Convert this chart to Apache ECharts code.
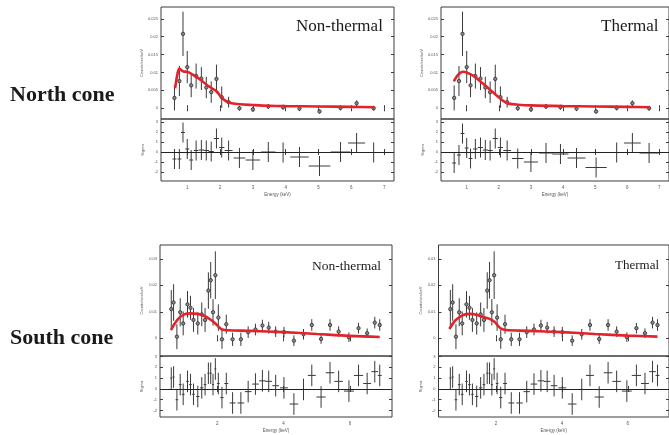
<!DOCTYPE html>
<html>
<head>
<meta charset="utf-8">
<script src="https://cdn.jsdelivr.net/npm/echarts@6/dist/echarts.min.js"></script>
<style>
    html, body { margin: 0; padding: 0; background: #fff; }
    #main { width: 669px; height: 435px; }
</style>
</head>
<body>
<div id="main"></div>
<script>
// north cone spectrum (keV, counts/sec/keV, error, half bin width)
var northE = [0.61, 0.76, 0.87, 1.0, 1.12, 1.27, 1.43, 1.58, 1.73, 1.89, 2.05, 2.26, 2.59, 3.0, 3.47, 3.92, 4.42, 5.03, 5.67, 6.16, 6.68];
var northRate = [0.0029, 0.0076, 0.0208, 0.0115, 0.0064, 0.0090, 0.0083, 0.0058, 0.0045, 0.0082, 0.0031, 0.0017, 0.0000, -0.0003, 0.0005, 0.0003, -0.0001, -0.0009, 0.0001, 0.0014, 0.0000];
var northErr = [0.0035, 0.0042, 0.0062, 0.0045, 0.0033, 0.0035, 0.0032, 0.0030, 0.0030, 0.0040, 0.0030, 0.0015, 0.0007, 0.0007, 0.0007, 0.0007, 0.0007, 0.0006, 0.0007, 0.0008, 0.0007];
var northWidth = [0.06, 0.06, 0.06, 0.06, 0.06, 0.07, 0.08, 0.08, 0.08, 0.08, 0.08, 0.12, 0.18, 0.22, 0.22, 0.25, 0.28, 0.33, 0.30, 0.26, 0.30];
var northSigmaNT = [-0.7, -0.7, 1.95, 0.3, -0.8, 0.15, 0.2, 0.15, 0.05, 1.35, 0.45, 0.15, -0.6, -0.8, 0.0, -0.05, -0.5, -1.4, 0.0, 0.9, -0.05];
var northSigmaT = [-1.1, -0.3, 1.85, 0.4, -0.65, 0.3, 0.45, 0.2, 0.15, 1.35, 0.45, 0.15, -0.65, -1.0, -0.1, -0.2, -0.6, -1.55, -0.05, 0.9, -0.1];

// north models
var northModelNTE = [0.63, 0.70, 0.76, 0.88, 1.0, 1.2, 1.4, 1.6, 1.75, 1.9, 2.0, 2.1, 2.2, 2.35, 2.6, 3.0, 3.5, 4.0, 5.0, 6.0, 6.7];
var northModelNT = [0.0056, 0.0095, 0.0110, 0.0103, 0.0102, 0.0092, 0.0080, 0.0065, 0.0056, 0.0047, 0.0035, 0.0025, 0.0019, 0.0014, 0.0011, 0.0009, 0.0007, 0.0006, 0.0005, 0.0004, 0.0003];
var northModelTE = [0.6, 0.7, 0.8, 0.9, 1.0, 1.2, 1.4, 1.6, 1.8, 2.0, 2.1, 2.2, 2.3, 2.6, 3.0, 4.0, 5.0, 6.0, 6.7];
var northModelT = [0.0075, 0.0090, 0.0099, 0.0102, 0.0100, 0.0091, 0.0077, 0.0062, 0.0046, 0.0031, 0.0023, 0.0017, 0.0013, 0.0010, 0.0008, 0.0006, 0.0005, 0.0004, 0.0003];

// south cone spectrum
var southE = [0.61, 0.68, 0.78, 0.88, 0.97, 1.10, 1.19, 1.28, 1.41, 1.53, 1.63, 1.73, 1.80, 1.87, 1.94, 2.03, 2.14, 2.27, 2.46, 2.71, 2.93, 3.15, 3.36, 3.55, 3.76, 4.01, 4.31, 4.60, 4.85, 5.13, 5.40, 5.66, 5.97, 6.26, 6.52, 6.75, 6.90];
var southRate = [0.0110, 0.0135, 0.0006, 0.0098, 0.0056, 0.0128, 0.0115, 0.0069, 0.0056, 0.0090, 0.0069, 0.0180, 0.0219, 0.0098, 0.0238, 0.0078, -0.0004, 0.0053, -0.0004, -0.0004, 0.0023, 0.0033, 0.0048, 0.0040, 0.0025, 0.0023, -0.0009, 0.0015, 0.0050, -0.0003, 0.0050, 0.0025, 0.0004, 0.0038, 0.0019, 0.0059, 0.0050];
var southErr = [0.0072, 0.0069, 0.0047, 0.0053, 0.0045, 0.0050, 0.0045, 0.0045, 0.0042, 0.0045, 0.0045, 0.0069, 0.0069, 0.0050, 0.0090, 0.0050, 0.0036, 0.0036, 0.0025, 0.0025, 0.0022, 0.0022, 0.0022, 0.0022, 0.0020, 0.0020, 0.0020, 0.0020, 0.0022, 0.0018, 0.0022, 0.0020, 0.0018, 0.0020, 0.0018, 0.0022, 0.0022];
var southWidth = [0.03, 0.03, 0.04, 0.04, 0.04, 0.04, 0.04, 0.04, 0.05, 0.05, 0.04, 0.03, 0.03, 0.03, 0.03, 0.04, 0.05, 0.06, 0.09, 0.10, 0.10, 0.10, 0.10, 0.10, 0.10, 0.12, 0.13, 0.13, 0.12, 0.14, 0.13, 0.13, 0.15, 0.14, 0.12, 0.10, 0.06];
var southSigma = [1.0, 1.1, -1.0, 0.4, -0.5, 0.7, 0.4, -0.5, -0.7, 0.1, 0.4, 1.45, 1.45, 0.4, 1.85, 0.5, -0.8, 0.5, -1.3, -1.3, -0.25, 0.45, 0.75, 0.7, 0.3, 0.1, -1.4, -0.05, 1.25, -0.75, 1.5, 0.7, -0.2, 1.25, 0.5, 1.6, 1.25];

// south models
var southModelNTE = [0.6, 0.8, 1.0, 1.2, 1.4, 1.6, 1.8, 1.95, 2.05, 2.15, 2.3, 3.0, 4.0, 5.0, 6.0, 6.9];
var southModelNT = [0.0031, 0.0070, 0.0090, 0.0094, 0.0092, 0.0085, 0.0070, 0.0055, 0.0042, 0.0033, 0.0030, 0.0028, 0.0023, 0.0016, 0.0009, 0.0005];
var southModelTE = [0.58, 0.7, 0.8, 1.0, 1.2, 1.4, 1.6, 1.8, 1.95, 2.05, 2.15, 2.3, 3.0, 4.0, 5.0, 6.0, 6.9];
var southModelT = [0.0035, 0.0058, 0.0072, 0.0088, 0.0092, 0.0089, 0.0080, 0.0073, 0.0062, 0.0048, 0.0036, 0.0031, 0.0028, 0.0023, 0.0016, 0.0010, 0.0006];

// tick labels
var northXTicks = [1, 2, 3, 4, 5, 6, 7];
var southXTicks = [2, 4, 6];
var northRateTicks = [0, 0.005, 0.01, 0.015, 0.02, 0.025];
var southRateTicks = [0, 0.01, 0.02, 0.03];
var sigmaTicks = [-2, -1, 0, 1, 2, 3];

var chart = echarts.init(document.getElementById('main'));
var option = {
    animation: false,
    backgroundColor: '#fff',
    grid: [],
    xAxis: [],
    yAxis: [],
    series: [],
    graphic: []
};

var frameColor = '#3c3c3c';

function errorBars(params, api) {
    var x = api.value(0), y = api.value(1), ye = api.value(2), xe = api.value(3), mark = api.value(4);
    var c = api.coord([x, y]);
    var hi = api.coord([x, y + ye]);
    var lo = api.coord([x, y - ye]);
    var style = { stroke: '#3a3a3a', lineWidth: 1 };
    var kids = [
        { type: 'line', shape: { x1: c[0], y1: hi[1], x2: c[0], y2: lo[1] }, style: style }
    ];
    if (xe > 0) {
        var l = api.coord([x - xe, y]);
        var r = api.coord([x + xe, y]);
        kids.push({ type: 'line', shape: { x1: l[0], y1: c[1], x2: r[0], y2: c[1] }, style: style });
    }
    if (mark) {
        kids.push({ type: 'circle', shape: { cx: c[0], cy: c[1], r: 1.7 }, style: { fill: '#8a8a8a', stroke: '#2a2a2a', lineWidth: 0.8 } });
    }
    return { type: 'group', children: kids };
}

function addAxes(rect, xmin, xmax, ymin, ymax, xTicks, yTicks, showX, yName) {
    var gi = option.grid.length;
    option.grid.push({
        left: rect[0], top: rect[1], width: rect[2], height: rect[3],
        show: true, borderColor: frameColor, borderWidth: 1, backgroundColor: 'transparent'
    });
    option.xAxis.push({
        type: 'value', gridIndex: gi, min: xmin, max: xmax,
        name: showX ? 'Energy (keV)' : '', nameLocation: 'middle', nameGap: showX ? 11 : 0,
        nameTextStyle: { fontSize: 4.5, color: '#555' },
        axisLine: { show: false },
        axisTick: { inside: true, length: 3, customValues: xTicks, lineStyle: { color: frameColor } },
        axisLabel: { show: showX, customValues: xTicks, margin: 4, fontSize: 4.5, color: '#555' },
        splitLine: { show: false }
    });
    option.yAxis.push({
        type: 'value', gridIndex: gi, min: ymin, max: ymax,
        name: yName, nameLocation: 'middle', nameGap: 16, nameRotate: 90,
        nameTextStyle: { fontSize: 4, color: '#555' },
        axisLine: { show: false },
        axisTick: { inside: true, length: 3, customValues: yTicks, lineStyle: { color: frameColor } },
        axisLabel: {
            customValues: yTicks, margin: 3, fontSize: 4, color: '#555',
            formatter: function (v) { return String(v); }
        },
        splitLine: { show: false }
    });
    // ticks on the top and right frame edges
    option.xAxis.push({
        type: 'value', gridIndex: gi, min: xmin, max: xmax, position: 'top',
        axisLine: { show: false }, axisLabel: { show: false }, splitLine: { show: false },
        axisTick: { inside: true, length: 3, customValues: xTicks, lineStyle: { color: frameColor } }
    });
    option.yAxis.push({
        type: 'value', gridIndex: gi, min: ymin, max: ymax, position: 'right',
        axisLine: { show: false }, axisLabel: { show: false }, splitLine: { show: false },
        axisTick: { inside: true, length: 3, customValues: yTicks, lineStyle: { color: frameColor } }
    });
    return option.xAxis.length - 2;
}

function addPanel(left, top, width, specH, resH, xr, yr, sr, xTicks, yTicks, energy, rate, err, binw, model, modelE, sigma) {
    var a1 = addAxes([left, top, width, specH], xr[0], xr[1], yr[0], yr[1], xTicks, yTicks, false, 'Counts/sec/keV');
    var a2 = addAxes([left, top + specH, width, resH], xr[0], xr[1], sr[0], sr[1], xTicks, sigmaTicks, true, 'Sigma');

    var pts = [], res = [], line = [];
    for (var i = 0; i < energy.length; i++) {
        pts.push([energy[i], rate[i], err[i], 0, 1]);
        res.push([energy[i], sigma[i], 1, binw[i], 0]);
    }
    for (var j = 0; j < modelE.length; j++) {
        line.push([modelE[j], model[j]]);
    }
    option.series.push({
        type: 'custom', xAxisIndex: a1, yAxisIndex: a1, renderItem: errorBars,
        data: pts, clip: true, z: 2
    });
    option.series.push({
        type: 'line', xAxisIndex: a1, yAxisIndex: a1, data: line,
        smooth: 0.35, showSymbol: false, z: 3,
        lineStyle: { color: '#e2232c', width: 2.6 }
    });
    option.series.push({
        type: 'custom', xAxisIndex: a2, yAxisIndex: a2, renderItem: errorBars,
        data: res, clip: true, z: 2,
        markLine: {
            silent: true, symbol: 'none', label: { show: false },
            lineStyle: { color: '#222', width: 1, type: 'solid' },
            data: [{ yAxis: 0 }]
        }
    });
}

// north, non-thermal and thermal
addPanel(161, 7, 233, 112, 62, [0.2, 7.3], [-0.003, 0.0283], [-2.9, 3.3], northXTicks, northRateTicks,
    northE, northRate, northErr, northWidth, northModelNT, northModelNTE, northSigmaNT);
addPanel(441, 7, 233, 112, 62, [0.2, 7.3], [-0.003, 0.0283], [-2.9, 3.3], northXTicks, northRateTicks,
    northE, northRate, northErr, northWidth, northModelT, northModelTE, northSigmaT);
// south
addPanel(160, 245, 232, 111, 61, [0.27, 7.27], [-0.0067, 0.0352], [-2.6, 3.05], southXTicks, southRateTicks,
    southE, southRate, southErr, southWidth, southModelNT, southModelNTE, southSigma);
addPanel(438.5, 245, 232, 111, 61, [0.25, 7.25], [-0.0067, 0.0352], [-2.6, 3.05], southXTicks, southRateTicks,
    southE, southRate, southErr, southWidth, southModelT, southModelTE, southSigma);

function label(text, x, y, font) {
    option.graphic.push({
        type: 'text', z: 10,
        style: { x: x, y: y, text: text, font: font, fill: '#1a1a1a', textVerticalAlign: 'middle' }
    });
}
label('North cone', 10, 95, 'bold 22px "Liberation Serif"');
label('South cone', 10, 338, 'bold 22px "Liberation Serif"');
label('Non-thermal', 296, 26.5, '17px "Liberation Serif"');
label('Thermal', 601, 26.5, '17px "Liberation Serif"');
label('Non-thermal', 312, 266, '13.5px "Liberation Serif"');
label('Thermal', 615, 266, '13px "Liberation Serif"');

chart.setOption(option);
</script>
</body>
</html>
